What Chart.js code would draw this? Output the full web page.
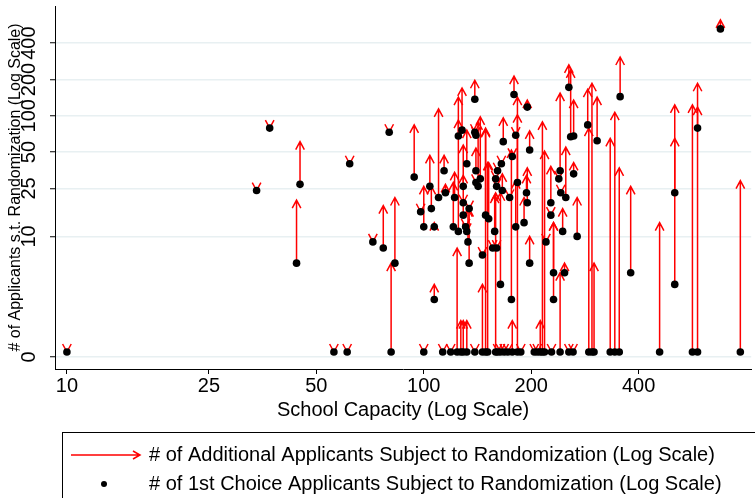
<!DOCTYPE html>
<html lang="en">
  <head>
    <meta charset="UTF-8" />
    <title>School Capacity vs Applicants</title>
    <script src="https://cdn.jsdelivr.net/npm/chart.js"></script>
    <style>
      body { margin: 0; background: #fff; }
    </style>
  </head>
  <body>
    <canvas id="myChart" width="755" height="498"></canvas>

    <script>
      // one entry per school: capacity, 1st choice applicants, additional applicants
      var capacity = [
        10, 34, 37, 44, 45, 56, 61, 62, 72, 77, 80, 81, 83, 94, 98, 100, 100, 104, 105, 107,
        107, 110, 113, 114, 115, 119, 121, 122, 124, 125, 125, 127, 128, 129, 129, 129, 129, 131, 132, 132,
        132, 133, 134, 134, 139, 139, 139, 140, 140, 140, 142, 144, 146, 146, 149, 149, 151, 152, 156, 158,
        159, 159, 160, 160, 161, 161, 164, 164, 165, 166, 167, 168, 172, 174, 176, 177, 177, 179, 181, 181,
        183, 183, 187, 191, 194, 195, 195, 198, 198, 204, 208, 212, 215, 218, 220, 227, 227, 228, 231, 231,
        239, 241, 241, 242, 245, 248, 250, 255, 255, 258, 262, 263, 263, 269, 288, 290, 296, 300, 306, 333,
        343, 353, 355, 380, 458, 505, 505, 566, 585, 585, 678, 771
      ];
      var firstChoice = [
        0, 24, 79, 6, 27, 0, 0, 40, 9, 8, 73, 0, 6, 31, 16, 12, 0, 26, 17, 12,
        3, 21, 0, 35, 23, 0, 12, 21, 0, 68, 11, 0, 76, 26, 19, 15, 0, 12, 11, 40,
        0, 9, 6, 17, 137, 73, 0, 69, 35, 28, 26, 30, 7, 0, 15, 0, 0, 14, 8, 11,
        30, 0, 26, 8, 35, 0, 4, 0, 40, 24, 61, 0, 0, 21, 3, 46, 0, 150, 69, 12,
        28, 0, 0, 13, 23, 19, 118, 52, 6, 0, 0, 0, 0, 0, 9, 19, 15, 0, 5, 3,
        30, 35, 0, 23, 11, 5, 21, 172, 0, 67, 0, 68, 33, 10, 84, 0, 0, 0, 62, 0,
        0, 0, 144, 5, 0, 23, 4, 0, 0, 79, 525, 0
      ];
      var additional = [
        0, 0, 0, 14, 34, 0, 0, 0, 0, 10, 0, 6, 15, 53, 0, 14, 0, 21, 9, 1,
        1, 93, 0, 12, 4, 0, 16, 13, 8, 75, 81, 2, 94, 31, 0, 17, 2, 0, 0, 36,
        2, 8, 11, 0, 60, 0, 0, 0, 19, 0, 63, 68, 0, 4, 62, 79, 41, 27, 0, 11,
        0, 23, 0, 0, 0, 0, 19, 0, 0, 9, 35, 0, 0, 0, 49, 0, 2, 63, 0, 17,
        74, 143, 0, 8, 9, 18, 17, 23, 4, 0, 0, 2, 89, 51, 0, 19, 0, 0, 8, 10,
        0, 119, 5, 0, 6, 1, 34, 92, 0, 173, 0, 67, 8, 11, 82, 79, 186, 6, 81, 65,
        107, 37, 163, 21, 13, 100, 61, 123, 118, 107, 98, 29
      ];

      var xTickValues = [10, 25, 50, 100, 200, 400];
      var yTickValues = [0, 10, 25, 50, 100, 200, 400];
      var legendLabels = [
        "# of Additional Applicants Subject to Randomization (Log Scale)",
        "# of 1st Choice Applicants Subject to Randomization (Log Scale)",
      ];

      var fonte = "'Liberation Sans', Arial, sans-serif";

      // log scale for counts, zero counts sit just above the "0" line
      function yPos(v) {
        return Math.log10(Math.max(v, 1.1));
      }

      function drawHead(ctx, x, y, dir) {
        ctx.moveTo(x - 4.3, y + dir * 8);
        ctx.lineTo(x, y);
        ctx.lineTo(x + 4.3, y + dir * 8);
      }

      // arrows from 1st choice count up to 1st choice + additional
      var arrowPlugin = {
        id: "setas",
        beforeDatasetsDraw(chart) {
          var ctx = chart.ctx;
          var xs = chart.scales.x;
          var ys = chart.scales.y;
          ctx.save();
          ctx.strokeStyle = "#ff0000";
          ctx.lineWidth = 1.5;
          for (var i = 0; i < capacity.length; i++) {
            var px = xs.getPixelForValue(capacity[i]);
            var y0 = ys.getPixelForValue(yPos(firstChoice[i]));
            ctx.beginPath();
            if (additional[i] > 0) {
              var y1 = ys.getPixelForValue(yPos(firstChoice[i] + additional[i]));
              ctx.moveTo(px, y0);
              ctx.lineTo(px, y1);
              drawHead(ctx, px, y1, 1);
            } else {
              drawHead(ctx, px, y0, -1);
            }
            ctx.stroke();
          }
          ctx.restore();
        },
      };

      var legendPlugin = {
        id: "legenda",
        afterDraw(chart) {
          var ctx = chart.ctx;
          ctx.save();
          ctx.strokeStyle = "#000";
          ctx.lineWidth = 1;
          ctx.strokeRect(62.5, 432.5, 760, 100);

          ctx.strokeStyle = "#ff0000";
          ctx.lineWidth = 1.5;
          ctx.beginPath();
          ctx.moveTo(71, 455);
          ctx.lineTo(140, 455);
          ctx.moveTo(133, 451);
          ctx.lineTo(140, 455);
          ctx.lineTo(133, 459);
          ctx.stroke();

          ctx.fillStyle = "#000";
          ctx.beginPath();
          ctx.arc(104, 484, 3, 0, Math.PI * 2);
          ctx.fill();

          ctx.font = "20px " + fonte;
          ctx.textBaseline = "middle";
          ctx.textAlign = "left";
          ctx.fillText(legendLabels[0], 149, 455);
          ctx.fillText(legendLabels[1], 149, 484);
          ctx.restore();
        },
      };

      var ctx = document.getElementById("myChart");
      new Chart(ctx, {
        type: "scatter",
        data: {
          datasets: [
            {
              label: legendLabels[1],
              data: capacity.map((c, i) => ({ x: c, y: yPos(firstChoice[i]) })),
              pointRadius: 3.8,
              pointHoverRadius: 3.8,
              pointBackgroundColor: "#000",
              pointBorderWidth: 0,
            },
          ],
        },
        options: {
          responsive: false,
          animation: false,
          layout: { padding: { top: 6, right: 0, bottom: 68, left: 0 } },
          plugins: {
            legend: { display: false },
            tooltip: { enabled: false },
          },
          scales: {
            x: {
              type: "logarithmic",
              position: "bottom",
              min: 9.26,
              max: 827,
              bounds: "data",
              afterBuildTicks: (scale) => {
                scale.ticks = xTickValues.map((v) => ({ value: v }));
              },
              afterFit: (scale) => {
                scale.height = 61;
                scale.paddingLeft = 0;
                scale.paddingRight = 0;
              },
              grid: {
                drawOnChartArea: false,
                tickLength: 5,
                tickColor: "#000",
              },
              border: { display: true, color: "#000", width: 1 },
              ticks: {
                autoSkip: false,
                maxRotation: 0,
                padding: 0,
                color: "#000",
                font: { family: fonte, size: 20 },
                callback: (v) => v,
              },
              title: {
                display: true,
                text: "School Capacity (Log Scale)",
                color: "#000",
                font: { family: fonte, size: 20 },
                padding: { top: 0, bottom: 8 },
              },
            },
            y: {
              type: "linear",
              min: -0.0995,
              max: 2.91,
              bounds: "data",
              afterBuildTicks: (scale) => {
                scale.ticks = yTickValues.map((t) => ({ value: t === 0 ? 0 : Math.log10(t) }));
              },
              afterFit: (scale) => {
                scale.width = 55;
                scale.paddingTop = 0;
                scale.paddingBottom = 0;
              },
              grid: {
                color: "#e8f0f2",
                lineWidth: 1.5,
                tickLength: 5,
                tickColor: "#000",
                tickWidth: 1,
              },
              border: { display: true, color: "#000", width: 1 },
              ticks: {
                autoSkip: false,
                minRotation: 90,
                maxRotation: 90,
                crossAlign: "center",
                padding: 4,
                color: "#000",
                font: { family: fonte, size: 20 },
                callback: (v, i) => yTickValues[i],
              },
              title: {
                display: true,
                text: "# of Applicants s.t. Randomization (Log Scale)",
                color: "#000",
                font: { family: fonte, size: 16 },
                padding: { top: 6, bottom: 0 },
              },
            },
          },
        },
        plugins: [arrowPlugin, legendPlugin],
      });
    </script>
  </body>
</html>
